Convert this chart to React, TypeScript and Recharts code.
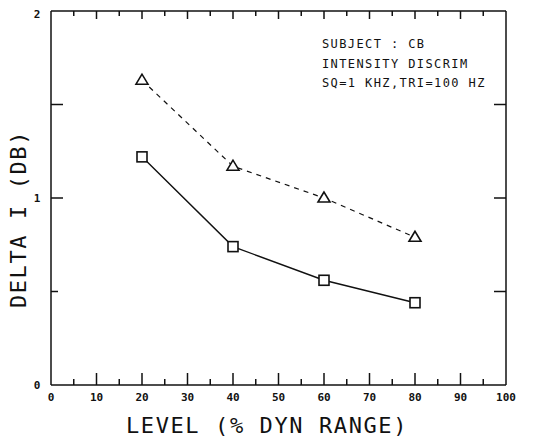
import React from 'react';
import { Label, Line, LineChart, ReferenceLine, XAxis, YAxis } from 'recharts';

const levels = [20, 40, 60, 80];
const squareSeries = [1.22, 0.74, 0.56, 0.44];
const triangleSeries = [1.63, 1.17, 1.0, 0.79];
const xTicks = [0, 5, 10, 15, 20, 25, 30, 35, 40, 45, 50, 55, 60, 65, 70, 75, 80, 85, 90, 95, 100];
const yTicks = [0, 0.5, 1, 1.5, 2];
const notes = ['SUBJECT : CB', 'INTENSITY DISCRIM', 'SQ=1 KHZ,TRI=100 HZ'];

const rows = levels.map((lv, i) => ({ level: lv, sq: squareSeries[i], tri: triangleSeries[i] }));

const mono = '"DejaVu Sans Mono", monospace';
const ink = '#111';
const axisStroke = { stroke: ink, strokeWidth: 1.5 };

// pixel -> data unit, plot is 455 x 374 px
const PX_X = 100 / 455;
const PX_Y = 2 / 374;

// chart sits at the body's 8px offset, text positions below are page - 8
const BottomTick = (props: any) => {
  const { x, y, payload } = props;
  const major = payload.value % 10 === 0;
  return (
    <text x={x} y={y + 16} textAnchor="middle" fontFamily={mono} fontWeight="bold" fontSize={11} fill={ink}>
      {major ? payload.value : ''}
    </text>
  );
};

const LeftTick = (props: any) => {
  const { x, y, payload } = props;
  const whole = Number.isInteger(payload.value);
  return (
    <text
      x={x - 14}
      y={y + (payload.value === 2 ? 7 : 4)}
      textAnchor="middle"
      fontFamily={mono}
      fontWeight="bold"
      fontSize={11}
      fill={ink}
    >
      {whole ? payload.value : ''}
    </text>
  );
};

const SquareDot = (props: any) => {
  const { cx, cy } = props;
  return <rect x={cx - 5} y={cy - 5} width={10} height={10} fill="#fff" stroke={ink} strokeWidth={1.6} />;
};

const TriangleDot = (props: any) => {
  const { cx, cy } = props;
  return (
    <polygon
      points={`${cx},${cy - 6} ${cx - 6},${cy + 4} ${cx + 6},${cy + 4}`}
      fill="#fff"
      stroke={ink}
      strokeWidth={1.6}
    />
  );
};

const NotesLabel = () => (
  <g>
    {notes.map((t, i) => (
      <text key={t} x={314} y={40 + i * 19.5} fontFamily={mono} fontSize={12} letterSpacing={1.4} fill={ink}>
        {t}
      </text>
    ))}
  </g>
);

const XTitle = () => (
  <text x={259} y={425} textAnchor="middle" fontFamily={mono} fontSize={22} letterSpacing={1.6} fill={ink}>
    LEVEL (% DYN RANGE)
  </text>
);

const YTitle = () => (
  <text
    x={18}
    y={211}
    transform="rotate(-90 18 211)"
    textAnchor="middle"
    fontFamily={mono}
    fontSize={22}
    letterSpacing={1.6}
    fill={ink}
  >
    DELTA I (DB)
  </text>
);

// inward tick marks on all four sides, drawn through the chart's scales
const xTickMarks = xTicks.slice(1, -1).flatMap((v) => {
  const major = v % 10 === 0;
  return [
    <ReferenceLine
      key={`b${v}`}
      xAxisId="b"
      yAxisId="l"
      segment={[{ x: v, y: 0 }, { x: v, y: (major ? 12 : 6) * PX_Y }]}
      stroke={ink}
      strokeWidth={1.5}
    />,
    <ReferenceLine
      key={`t${v}`}
      xAxisId="b"
      yAxisId="l"
      segment={[{ x: v, y: 2 }, { x: v, y: 2 - (major ? 8 : 5) * PX_Y }]}
      stroke={ink}
      strokeWidth={1.5}
    />,
  ];
});

const yTickMarks = yTicks.slice(1, -1).flatMap((v) => [
  <ReferenceLine
    key={`l${v}`}
    xAxisId="b"
    yAxisId="l"
    segment={[{ x: 0, y: v }, { x: (v === 0.5 ? 7 : 12) * PX_X, y: v }]}
    stroke={ink}
    strokeWidth={1.5}
  />,
  <ReferenceLine
    key={`r${v}`}
    xAxisId="b"
    yAxisId="l"
    segment={[{ x: 100, y: v }, { x: 100 - 12 * PX_X, y: v }]}
    stroke={ink}
    strokeWidth={1.5}
  />,
]);

const App = () => {
  return (
    <LineChart width={545} height={437} data={rows} margin={{ top: 2, right: 46, bottom: 30, left: 13 }}>
      <XAxis
        xAxisId="b"
        dataKey="level"
        type="number"
        domain={[0, 100]}
        ticks={xTicks}
        interval={0}
        height={30}
        tickSize={0}
        tickMargin={0}
        tickLine={false}
        axisLine={axisStroke}
        tick={<BottomTick />}
      >
        <Label content={<XTitle />} />
      </XAxis>
      <XAxis
        xAxisId="t"
        orientation="top"
        dataKey="level"
        type="number"
        domain={[0, 100]}
        height={1}
        tick={false}
        tickLine={false}
        axisLine={axisStroke}
      >
        <Label content={<NotesLabel />} />
      </XAxis>
      <YAxis
        yAxisId="l"
        type="number"
        domain={[0, 2]}
        ticks={yTicks}
        interval={0}
        width={30}
        tickSize={0}
        tickMargin={0}
        tickLine={false}
        axisLine={axisStroke}
        tick={<LeftTick />}
      >
        <Label content={<YTitle />} />
      </YAxis>
      <YAxis
        yAxisId="r"
        orientation="right"
        type="number"
        domain={[0, 2]}
        width={1}
        tick={false}
        tickLine={false}
        axisLine={axisStroke}
      />
      {xTickMarks}
      {yTickMarks}
      <Line
        xAxisId="b"
        yAxisId="l"
        dataKey="tri"
        type="linear"
        stroke={ink}
        strokeWidth={1.2}
        strokeDasharray="5 5"
        dot={<TriangleDot />}
        isAnimationActive={false}
      />
      <Line
        xAxisId="b"
        yAxisId="l"
        dataKey="sq"
        type="linear"
        stroke={ink}
        strokeWidth={1.4}
        dot={<SquareDot />}
        isAnimationActive={false}
      />
    </LineChart>
  );
};

export default App;
